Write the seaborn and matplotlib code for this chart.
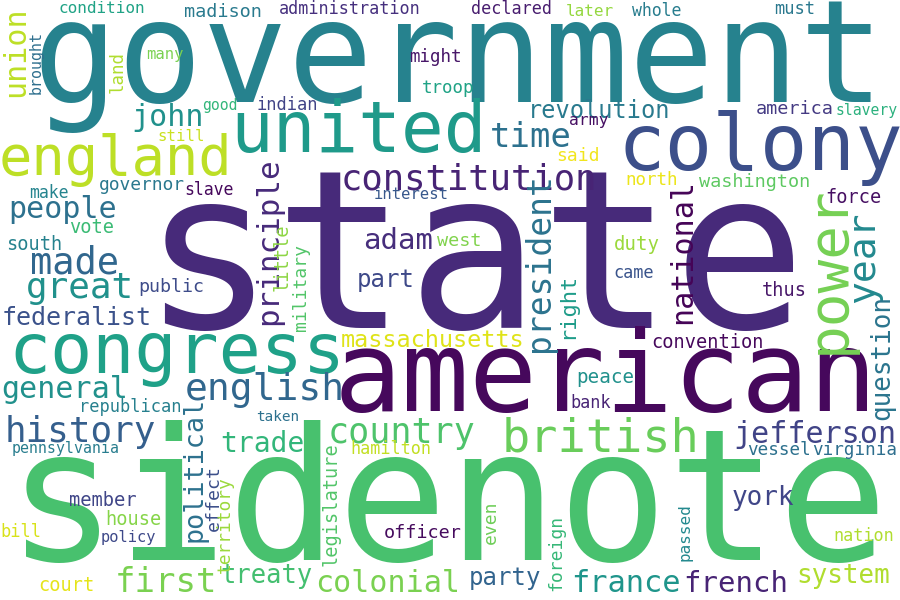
import matplotlib
matplotlib.use("Agg")
import matplotlib.pyplot as plt
import seaborn as sns

# words and their viridis shade (0..1)
WORDS = ["state", "government", "sidenote", "american", "colony", "united", "congress",
         "england", "british", "english", "made", "great", "history", "constitution",
         "country", "first", "time", "john", "people", "general", "colonial", "france",
         "french", "jefferson", "adam", "trade", "york", "system", "treaty", "federalist",
         "part", "party", "revolution", "massachusetts", "duty", "peace", "thus",
         "convention", "washington", "force", "america", "west", "vote", "south", "public",
         "member", "house", "court", "officer", "madison", "governor", "said", "might",
         "troop", "north", "indian", "must", "declared", "administration", "whole", "later",
         "condition", "army", "make", "slave", "came", "bank", "hamilton", "republican",
         "bill", "nation", "vessel", "virginia", "still", "many", "interest", "policy",
         "slavery", "pennsylvania", "good", "taken",
         "union", "brought", "land", "principle", "power", "year", "national", "question",
         "president", "right", "little", "military", "political", "effect", "territory",
         "legislature", "even", "foreign", "passed"]
SHADES = [0.12, 0.44, 0.71, 0.02, 0.24, 0.54, 0.57,
          0.90, 0.77, 0.33, 0.33, 0.50, 0.30, 0.10,
          0.72, 0.80, 0.37, 0.50, 0.37, 0.50, 0.80, 0.52,
          0.10, 0.20, 0.13, 0.66, 0.21, 0.88, 0.70, 0.25,
          0.22, 0.32, 0.41, 0.95, 0.85, 0.50, 0.06,
          0.02, 0.75, 0.04, 0.17, 0.81, 0.68, 0.44, 0.23,
          0.21, 0.82, 0.96, 0.03, 0.41, 0.40, 0.98, 0.06,
          0.58, 0.97, 0.20, 0.40, 0.08, 0.14, 0.42, 0.84,
          0.58, 0.04, 0.45, 0.02, 0.26, 0.10, 0.91, 0.43,
          0.94, 0.88, 0.37, 0.36, 0.92, 0.80, 0.27, 0.22,
          0.64, 0.42, 0.66, 0.37,
          0.90, 0.36, 0.88, 0.12, 0.79, 0.47, 0.01, 0.39,
          0.38, 0.55, 0.83, 0.73, 0.37, 0.24, 0.85,
          0.73, 0.78, 0.67, 0.47]

# layout: em size in px, ink x / baseline y (vertical words: baseline x / ink bottom y)
EM = [221, 141.5, 183, 113, 79, 71, 70,
      55.5, 47, 38, 37, 36, 36, 35.5,
      35, 34, 34, 30, 30, 30, 30, 30.4,
      29, 30, 29, 28, 26, 26, 25.5, 25,
      24, 24, 23.6, 23.5, 19, 19.3, 18.7,
      18.6, 18.5, 18.6, 18.5, 18.5, 18.7, 18.6, 18.3,
      18.8, 18.6, 18.6, 18.5, 18.5, 17.9, 18, 17.5,
      17.5, 17.5, 17, 17, 16.8, 16.7, 16.5, 16,
      16, 16.4, 16.5, 16.5, 16.9, 16.9, 16.8, 17,
      17, 16.8, 17.6, 17.6, 15.8, 15.6, 15.5, 15.4,
      14.8, 14.9, 14.7, 14.4,
      30, 15, 17.5, 31, 56, 38, 30, 26,
      33, 22, 18.8, 18, 26.7, 18.3, 17.9,
      18.6, 18, 18, 16]
POS_X = [157, 42, 20, 342, 623, 235, 13,
         3, 505, 187, 33, 28, 7, 343,
         330, 117, 492, 133, 10, 3, 317, 573,
         685, 735, 365, 222, 733, 798, 222, 3,
         358, 470, 530, 342, 615, 578, 763,
         653, 700, 827, 757, 438, 70, 7, 140,
         70, 107, 40, 385, 185, 100, 557, 410,
         423, 627, 258, 775, 472, 280, 633, 567,
         60, 570, 30, 185, 615, 572, 352, 80,
         2, 835, 748, 813, 158, 147, 375, 102,
         837, 13, 203, 257,
         24, 41, 123, 277, 844, 874, 691, 889,
         549, 573, 288, 306, 202, 219, 230,
         337, 496, 561, 690]
POS_Y = [328, 102, 560, 411, 170, 152, 373,
         175, 452, 400, 274, 298, 442, 190,
         443, 592, 147, 126, 218, 398, 592, 592,
         592, 443, 249, 452, 505, 583, 583, 325,
         287, 585, 118, 347, 250, 383, 296,
         348, 187, 203, 114, 246, 233, 250, 292,
         506, 525, 591, 538, 17, 190, 161, 62,
         93, 185, 110, 14, 13.5, 13.5, 16, 16,
         12.7, 125, 198, 195, 278, 408, 454, 412,
         537, 541, 455, 455, 141, 59, 199, 542,
         115, 453, 110, 421,
         95, 93, 92, 323, 350, 300, 322, 418,
         350, 337, 290, 330, 540, 530, 572,
         565, 543, 590, 560]
N_FLAT = 81
ROT = [0] * N_FLAT + [90] * (len(WORDS) - N_FLAT)
BEARING = 0.07  # matplotlib anchors at the pen origin, not at the ink

sns.set_theme(style="white")
plt.rcParams["font.family"] = ["DejaVu Sans Mono", "DejaVu Sans"]
cmap = sns.color_palette("viridis", as_cmap=True)

fig = plt.figure(figsize=(9, 6), dpi=100)
ax = fig.add_axes([0, 0, 1, 1])
ax.set_xlim(0, 900)
ax.set_ylim(600, 0)
ax.axis("off")

for w, s, em, x, y, r in zip(WORDS, SHADES, EM, POS_X, POS_Y, ROT):
    if r == 0:
        x = x - BEARING * em
    else:
        y = y + BEARING * em
    ax.text(x, y, w, fontsize=em * 0.72, color=cmap(s), rotation=r,
            rotation_mode="anchor", ha="left", va="baseline")

fig.savefig("out.png", dpi=100, facecolor="white")
